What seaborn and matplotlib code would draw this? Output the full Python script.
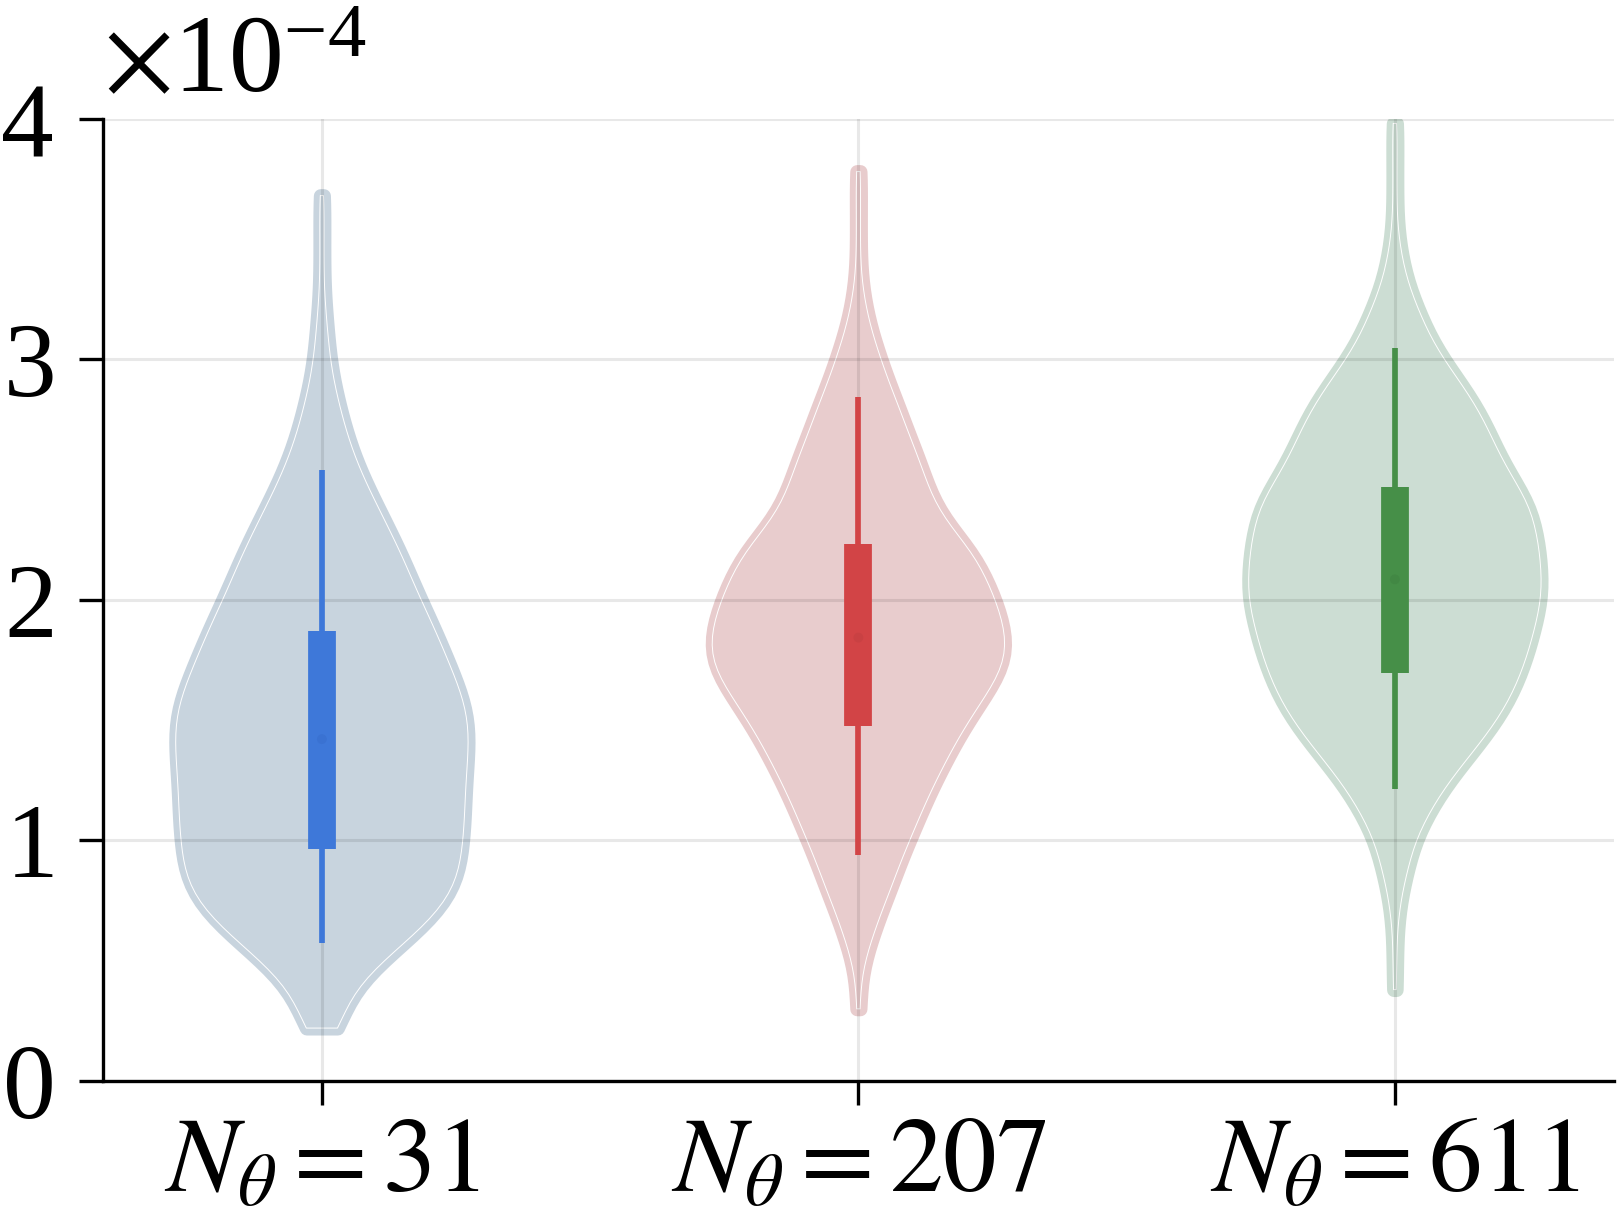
import numpy as np
import pandas as pd
import matplotlib
matplotlib.use("Agg")
import matplotlib.pyplot as plt
import seaborn as sns

# ---------------- data (values in units of 1e-4) ----------------
SCALE = 1e-4
categories = [r"$N_\theta = 31$", r"$N_\theta = 207$", r"$N_\theta = 611$"]

levels_31 = [0.22, 0.3, 0.4, 0.5, 0.6, 0.7, 0.8, 0.9, 1.0, 1.1, 1.2, 1.3, 1.4, 1.5,
             1.6, 1.7, 1.8, 1.9, 2.0, 2.1, 2.2, 2.3, 2.4, 2.5, 2.6, 2.7, 2.8, 2.9,
             3.0, 3.1, 3.2, 3.3, 3.4, 3.5, 3.6, 3.68]
counts_31 = [8, 10, 18, 30, 45, 58, 66, 69, 70, 71, 71, 72, 73, 73,
             70, 65, 60, 55, 49, 44, 39, 33, 27, 21, 16, 12, 9, 6,
             4, 3, 2, 1, 1, 1, 1, 1]

levels_207 = [0.3, 0.4, 0.5, 0.6, 0.7, 0.8, 0.9, 1.0, 1.1, 1.2, 1.3, 1.4, 1.5, 1.6,
              1.7, 1.8, 1.9, 2.0, 2.1, 2.2, 2.3, 2.4, 2.5, 2.6, 2.7, 2.8, 2.9, 3.0,
              3.1, 3.2, 3.3, 3.4, 3.5, 3.6, 3.7, 3.78]
counts_207 = [1, 1, 3, 7, 11, 16, 20, 25, 30, 35, 41, 47, 54, 62,
              70, 73, 71, 67, 62, 56, 45, 37, 33, 29, 24, 20, 15, 11,
              7, 4, 2, 1, 1, 1, 1, 1]

levels_611 = [0.38, 0.5, 0.6, 0.7, 0.8, 0.9, 1.0, 1.1, 1.2, 1.3, 1.4, 1.5, 1.6, 1.7,
              1.8, 1.9, 2.0, 2.1, 2.2, 2.3, 2.4, 2.5, 2.6, 2.7, 2.8, 2.9, 3.0, 3.1,
              3.2, 3.3, 3.4, 3.5, 3.6, 3.7, 3.8, 3.9, 3.98]
counts_611 = [1, 1, 1, 2, 4, 7, 10, 16, 23, 32, 42, 51, 58, 63,
              67, 70, 73, 73, 72, 70, 67, 59, 52, 47, 41, 33, 24, 17,
              12, 7, 4, 2, 1, 1, 1, 1, 1]

# box statistics
q1 = [0.964, 1.477, 1.694]
q3 = [1.872, 2.232, 2.468]
medians = [1.421, 1.843, 2.085]
whisk_lo = [0.572, 0.939, 1.212]
whisk_hi = [2.540, 2.842, 3.045]

fill_colors = ["#c8d4de", "#e8cccd", "#ccddd3"]
box_colors = ["#3e78d9", "#d24446", "#468f48"]
median_colors = ["#3a72d2", "#c94143", "#428844"]

# ---------------- build frame ----------------
vals, grp = [], []
for cat, lv, ct in zip(categories,
                       [levels_31, levels_207, levels_611],
                       [counts_31, counts_207, counts_611]):
    v = np.repeat(np.array(lv) * SCALE, ct)
    vals.append(v)
    grp += [cat] * len(v)
df = pd.DataFrame({"group": grp, "value": np.concatenate(vals)})

# ---------------- style ----------------
plt.rcParams["font.family"] = ["Liberation Serif", "DejaVu Serif"]
plt.rcParams["mathtext.fontset"] = "stix"

fig = plt.figure(figsize=(16.17, 12.19), dpi=100)
ax = fig.add_axes([0.0637, 0.1132, 0.9343, 0.7895])

common = dict(data=df, x="group", y="value", hue="group", order=categories,
              hue_order=categories, inner=None, cut=0, bw_method=0.15,
              density_norm="width", width=0.545, legend=False, ax=ax)

sns.violinplot(palette=fill_colors, saturation=1, linewidth=10, **common)
for coll, c in zip(ax.collections, fill_colors):
    coll.set_edgecolor(c)
    coll.set_joinstyle("round")
sns.violinplot(palette=["white"] * 3, fill=False, linewidth=0.7, **common)

pos = np.arange(len(categories))
ax.vlines(pos, np.array(whisk_lo) * SCALE, np.array(whisk_hi) * SCALE,
          colors=box_colors, lw=4.1, capstyle="butt", zorder=3)
ax.vlines(pos, np.array(q1) * SCALE, np.array(q3) * SCALE,
          colors=box_colors, lw=20, capstyle="butt", zorder=3)
ax.scatter(pos, np.array(medians) * SCALE, s=50, color=median_colors,
           zorder=4, linewidths=0)

ax.set_xlim(-0.408, 2.408)
ax.set_ylim(0, 4 * SCALE)
ax.set_yticks(np.array([0, 1, 2, 3, 4]) * SCALE)
ax.ticklabel_format(axis="y", style="sci", scilimits=(0, 0), useMathText=True)
ax.set_xticks(pos)
ax.set_xticklabels(categories)
ax.set_xlabel("")
ax.set_ylabel("")

ax.set_axisbelow(False)
ax.grid(True, color="black", alpha=0.09, lw=2.2)
for s in ["top", "right"]:
    ax.spines[s].set_visible(False)
for s in ["left", "bottom"]:
    ax.spines[s].set_linewidth(2.4)
ax.tick_params(axis="both", direction="out", length=17, width=2.4,
               colors="black")
ax.tick_params(axis="y", pad=19, labelsize=76)
ax.tick_params(axis="x", pad=9, labelsize=77)
ax.yaxis.offsetText.set_fontsize(79)
ax.yaxis.OFFSETTEXTPAD = 19

fig.savefig("out.png", dpi=100)
